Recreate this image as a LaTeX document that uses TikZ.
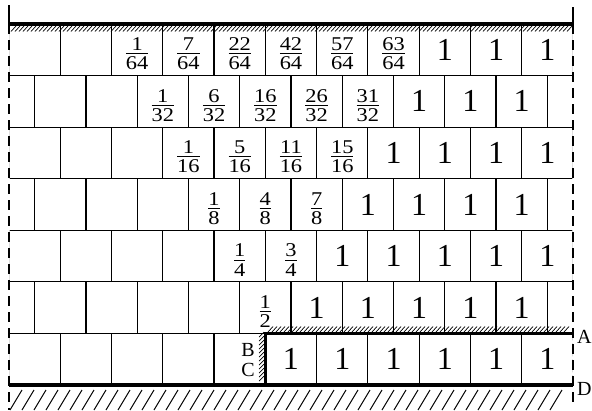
\documentclass[tikz,border=0pt]{standalone}
\usepackage{fontspec}
\setmainfont{Liberation Serif}
\usepackage{graphicx}
\usetikzlibrary{positioning}

\newcommand{\bw}{51.27}
\newcommand{\bh}{51.57}
\newcommand{\fr}[2]{{\fontsize{19.5}{22}\selectfont\raisebox{-4pt}[\height][\depth]{%
  $\frac{\mbox{\scalebox{1.15}[1]{#1}}}{\mbox{\rule{0pt}{0.8em}\scalebox{1.15}[1]{#2}}}$}}}

\begin{document}
\begin{tikzpicture}[
  x=1pt, y=-1pt,
  every node/.style={font=\fontsize{32}{32}\selectfont},
  brick/.style={draw, line width=1.2pt, minimum width=\bw pt,
                minimum height=\bh pt, inner sep=0, outer sep=0},
  joint/.style={brick, dash pattern=on 5pt off 3pt},
  wall/.style={line width=3.4pt},
  hatch/.style={line width=0.7pt},
  border/.style={line width=1.5pt},
  lbl/.style={font=\fontsize{20}{20}\selectfont, inner sep=0}
]
\useasboundingbox (0,0) rectangle (592,410);

\coordinate (tl) at (9,24);
\coordinate (tr) at (573,24);
\coordinate (bl) at (9,385);
\coordinate (br) at (573,385);
\coordinate (kink) at (265.35,333.4);
\coordinate (ra) at (573,333.4);

\begin{scope}
\clip (9.8,24) rectangle (572.2,385);

% Row 1
\foreach \i/\t in {0/{},1/{},2/\fr{1}{64},3/\fr{7}{64},4/\fr{22}{64},
  5/\fr{42}{64},6/\fr{57}{64},7/\fr{63}{64},8/1,9/1,10/1}
  \node[brick] (a\i) at ({9+(\i+0.5)*\bw}, {24+0.5*\bh}) {\t};

% Row 2
\foreach \i/\t in {0/{},1/{},2/{},3/\fr{1}{32},4/\fr{6}{32},5/\fr{16}{32},
  6/\fr{26}{32},7/\fr{31}{32},8/1,9/1,10/1,11/{}}
  \node[brick] (b\i) at ({9+\i*\bw}, {24+1.5*\bh}) {\t};

% Row 3
\foreach \i/\t in {0/{},1/{},2/{},3/\fr{1}{16},4/\fr{5}{16},5/\fr{11}{16},
  6/\fr{15}{16},7/1,8/1,9/1,10/1}
  \node[brick] (c\i) at ({9+(\i+0.5)*\bw}, {24+2.5*\bh}) {\t};

% Row 4
\foreach \i/\t in {0/{},1/{},2/{},3/{},4/\fr{1}{8},5/\fr{4}{8},6/\fr{7}{8},
  7/1,8/1,9/1,10/1,11/{}}
  \node[brick] (d\i) at ({9+\i*\bw}, {24+3.5*\bh}) {\t};

% Row 5
\foreach \i/\t in {0/{},1/{},2/{},3/{},4/\fr{1}{4},5/\fr{3}{4},
  6/1,7/1,8/1,9/1,10/1}
  \node[brick] (e\i) at ({9+(\i+0.5)*\bw}, {24+4.5*\bh}) {\t};

% Row 6
\foreach \i/\t in {0/{},1/{},2/{},3/{},4/{},5/\fr{1}{2},
  6/1,7/1,8/1,9/1,10/1,11/{}}
  \node[brick] (f\i) at ({9+\i*\bw}, {24+5.5*\bh}) {\t};

% Row 7: solid part, then dashed joints
\foreach \i in {0,...,4}
  \node[brick] (g\i) at ({9+(\i+0.5)*\bw}, {24+6.5*\bh}) {};
\foreach \i in {5,...,10}
  \node[joint] (g\i) at ({9+(\i+0.5)*\bw}, {24+6.5*\bh}) {1};
\end{scope}

% Hatching
\foreach \x in {11,15,...,567}
  \draw[hatch] (\x,31.5) -- ++(5,-5.5);
\foreach \x in {268,272,...,567}
  \draw[hatch] (\x,332) -- ++(5,-5.5);
\foreach \y in {337,341,...,384}
  \draw[hatch] (259,\y) -- ++(5,-5);
\foreach \x in {10,22,...,556}
  \draw[line width=1pt] (\x,410) -- ++(12,-20);

% Side borders
\draw[border] (9,5) -- (tl);
\draw[border, dash pattern=on 10pt off 6pt] (tl) -- (9,410);
\draw[border] (573,7) -- (tr);
\draw[border, dash pattern=on 10pt off 6pt] (tr) -- (573,403);

% Walls
\draw[wall] (tl) -- (tr);
\draw[wall] (ra) -- (kink) -- (kink |- bl);
\draw[line width=4.5pt] (bl) -- (br);

% Labels
\node[lbl, right=4pt of ra, yshift=-3pt] (labA) {A};
\node[lbl, right=4pt of br, yshift=-4pt] (labD) {D};
\node[lbl] (labB) at (248,350) {B};
\node[lbl] (labC) at (248,370) {C};

\end{tikzpicture}
\end{document}
